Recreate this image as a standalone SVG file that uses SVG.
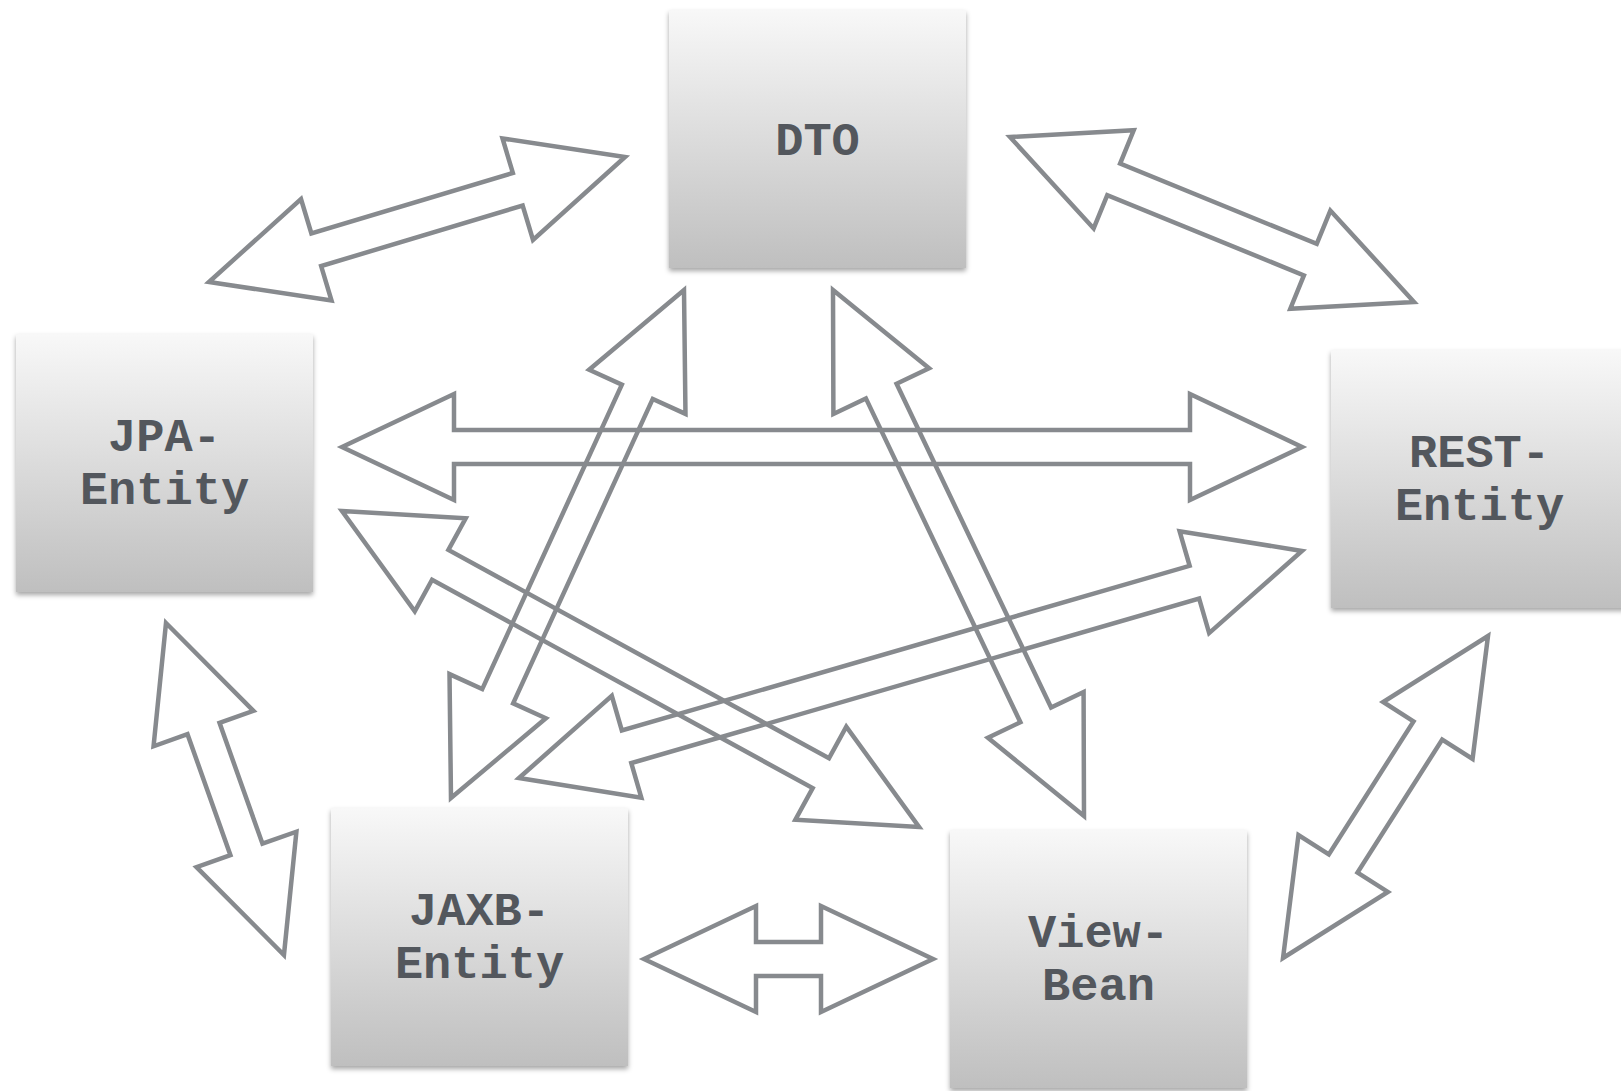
<svg xmlns="http://www.w3.org/2000/svg" width="1621" height="1091" viewBox="0 0 1621 1091">
  <defs>
    <linearGradient id="boxGrad" x1="0" y1="0" x2="0" y2="1">
      <stop offset="0" stop-color="#f8f8f8"/>
      <stop offset="1" stop-color="#bfbfbf"/>
    </linearGradient>
    <filter id="shadow" x="-10%" y="-10%" width="120%" height="125%">
      <feDropShadow dx="0" dy="3" stdDeviation="2.5" flood-color="#000" flood-opacity="0.35"/>
    </filter>
  </defs>
  <style>
    .box { fill: url(#boxGrad); filter: url(#shadow); }
    .label { font-family: "Liberation Mono", "DejaVu Sans Mono", monospace; font-weight: bold; font-size: 47px; fill: #53575d; text-anchor: middle; }
    .arrow { fill: none; stroke: #878a8e; stroke-width: 4.5; stroke-linejoin: miter; stroke-miterlimit: 10; }
  </style>
  <rect width="1621" height="1091" fill="#ffffff"/>

  <g id="connectors">
    <polygon class="arrow" transform="translate(209,282) rotate(-16.72)" points="0,0 112,-53 112,-17 322.4,-17 322.4,-53 434.4,0 322.4,53 322.4,17 112,17 112,53"/>
    <polygon class="arrow" transform="translate(1010,137) rotate(22.21)" points="0,0 112,-53 112,-17 324.4,-17 324.4,-53 436.4,0 324.4,53 324.4,17 112,17 112,53"/>
    <polygon class="arrow" transform="translate(342,447)" points="0,0 112,-53 112,-17 848,-17 848,-53 960,0 848,53 848,17 112,17 112,53"/>
    <polygon class="arrow" transform="translate(342,511) rotate(28.70)" points="0,0 112,-53 112,-17 545.9,-17 545.9,-53 657.9,0 545.9,53 545.9,17 112,17 112,53"/>
    <polygon class="arrow" transform="translate(684,290) rotate(114.64)" points="0,0 112,-53 112,-17 446.9,-17 446.9,-53 558.9,0 446.9,53 446.9,17 112,17 112,53"/>
    <polygon class="arrow" transform="translate(833,290) rotate(64.49)" points="0,0 112,-53 112,-17 470.8,-17 470.8,-53 582.8,0 470.8,53 470.8,17 112,17 112,53"/>
    <polygon class="arrow" transform="translate(519,778) rotate(-16.17)" points="0,0 112,-53 112,-17 703.2,-17 703.2,-53 815.2,0 703.2,53 703.2,17 112,17 112,53"/>
    <polygon class="arrow" transform="translate(166,623) rotate(70.44)" points="0,0 112,-53 112,-17 240.3,-17 240.3,-53 352.3,0 240.3,53 240.3,17 112,17 112,53"/>
    <polygon class="arrow" transform="translate(644,959)" points="0,0 112,-53 112,-17 177,-17 177,-53 289,0 177,53 177,17 112,17 112,53"/>
    <polygon class="arrow" transform="translate(1488,636) rotate(122.48)" points="0,0 112,-53 112,-17 269.7,-17 269.7,-53 381.7,0 269.7,53 269.7,17 112,17 112,53"/>
  </g>

  <g id="node-dto">
    <rect class="box" x="669" y="10" width="297" height="258"/>
    <text class="label" x="817.5" y="155">DTO</text>
  </g>
  <g id="node-jpa">
    <rect class="box" x="16" y="334" width="297" height="258"/>
    <text class="label" x="164.5" y="451">JPA-</text>
    <text class="label" x="164.5" y="504">Entity</text>
  </g>
  <g id="node-rest">
    <rect class="box" x="1331" y="350" width="297" height="258"/>
    <text class="label" x="1479.5" y="467">REST-</text>
    <text class="label" x="1479.5" y="520">Entity</text>
  </g>
  <g id="node-jaxb">
    <rect class="box" x="331" y="808" width="297" height="258"/>
    <text class="label" x="479.5" y="925">JAXB-</text>
    <text class="label" x="479.5" y="978">Entity</text>
  </g>
  <g id="node-viewbean">
    <rect class="box" x="950" y="830" width="297" height="258"/>
    <text class="label" x="1098.5" y="947">View-</text>
    <text class="label" x="1098.5" y="1000">Bean</text>
  </g>
</svg>
